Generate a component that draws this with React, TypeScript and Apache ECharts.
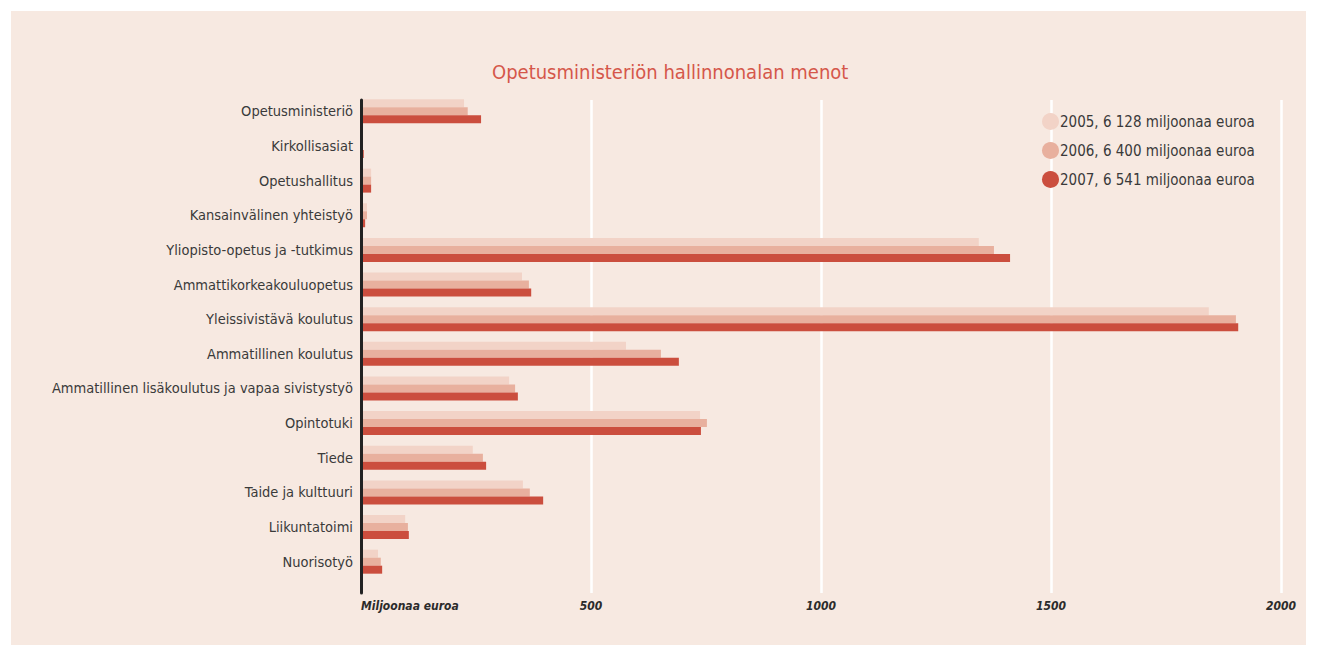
import React, { useEffect, useRef } from "react";
import * as echarts from "echarts";

const categories = [
  "Opetusministeriö",
  "Kirkollisasiat",
  "Opetushallitus",
  "Kansainvälinen yhteistyö",
  "Yliopisto-opetus ja -tutkimus",
  "Ammattikorkeakouluopetus",
  "Yleissivistävä koulutus",
  "Ammatillinen koulutus",
  "Ammatillinen lisäkoulutus ja vapaa sivistystyö",
  "Opintotuki",
  "Tiede",
  "Taide ja kulttuuri",
  "Liikuntatoimi",
  "Nuorisotyö",
];

const values2005 = [224, 3, 22, 13, 1343, 350, 1843, 576, 322, 737, 243, 352, 96, 37];
const values2006 = [232, 4, 22, 13, 1376, 365, 1902, 652, 335, 752, 265, 367, 102, 43];
const values2007 = [261, 6, 22, 9, 1411, 370, 1907, 691, 341, 739, 272, 396, 104, 46];

const seriesNames = [
  "2005, 6 128 miljoonaa euroa",
  "2006, 6 400 miljoonaa euroa",
  "2007, 6 541 miljoonaa euroa",
];

const xTicks = [0, 500, 1000, 1500, 2000];
const xMinLabel = "Miljoonaa euroa";

const colors = ["#f2d3c7", "#e8b09e", "#cb4e3e"];
const FONT = "'Liberation Sans Narrow', 'DejaVu Sans Condensed', 'Roboto Condensed', 'Liberation Sans', sans-serif";

export default function App() {
  const ref = useRef<HTMLDivElement>(null);
  useEffect(() => {
    if (!ref.current) return;
    const chart = echarts.init(ref.current, null, { renderer: "svg" });
    const data = [values2005, values2006, values2007];
    chart.setOption({
      animation: false,
      backgroundColor: "transparent",
      color: colors,
      title: {
        text: "Opetusministeriön hallinnonalan menot",
        left: 481,
        top: 51,
        padding: 0,
        textStyle: {
          fontFamily: FONT,
          fontWeight: "normal",
          fontSize: 20,
          color: "#d5574a",
        },
      },
      legend: {
        orient: "vertical",
        left: 1026,
        top: 97,
        itemGap: 12,
        itemWidth: 17,
        itemHeight: 17,
        icon: "circle",
        data: seriesNames,
        textStyle: { fontFamily: FONT, fontSize: 15, color: "#3a3a3a", padding: [0, 0, 0, -4] },
      },
      grid: [
        { left: 350, width: 920, top: 83, height: 485, outerBoundsMode: "none", containLabel: false },
        { left: 350, width: 920, top: 89, height: 493, outerBoundsMode: "none", containLabel: false },
      ],
      xAxis: [
        { gridIndex: 0, type: "value", min: 0, max: 2000, interval: 500, show: false, splitLine: { show: false } },
        {
          gridIndex: 1,
          type: "value",
          min: xTicks[0],
          max: xTicks[xTicks.length - 1],
          interval: 500,
          axisLine: { show: false },
          axisTick: { show: false },
          splitLine: { show: true, lineStyle: { color: "#ffffff", width: 2.5 } },
          axisLabel: {
            margin: 7,
            alignMinLabel: "left",
            formatter: (v: number) => (v === 0 ? xMinLabel : String(v)),
            fontFamily: FONT,
            fontStyle: "italic",
            fontWeight: "bold",
            fontSize: 12,
            color: "#2b2b2b",
          },
        },
      ],
      yAxis: [
        {
          gridIndex: 0,
          type: "category",
          inverse: true,
          data: categories,
          axisLine: { show: false },
          axisTick: { show: false },
          axisLabel: {
            margin: 8,
            fontFamily: FONT,
            fontSize: 14.5,
            color: "#3a3a3a",
            padding: [0, 0, 6, 0],
          },
        },
        {
          gridIndex: 1,
          type: "category",
          data: categories,
          z: 10,
          axisLine: { show: true, lineStyle: { color: "#222222", width: 3 } },
          axisTick: { show: false },
          axisLabel: { show: false },
        },
      ],
      series: seriesNames.map((name, i) => ({
        name,
        type: "bar",
        xAxisIndex: 0,
        yAxisIndex: 0,
        data: data[i],
        barWidth: 8,
        barGap: "0%",
        itemStyle: { color: colors[i] },
      })),
    });
    return () => chart.dispose();
  }, []);
  return (
    <div style={{ position: "fixed", left: 0, top: 0, width: 1317, height: 656, background: "#ffffff" }}>
      <div
        ref={ref}
        style={{ position: "absolute", left: 11, top: 11, width: 1295, height: 634, background: "#f7e9e1" }}
      />
    </div>
  );
}
